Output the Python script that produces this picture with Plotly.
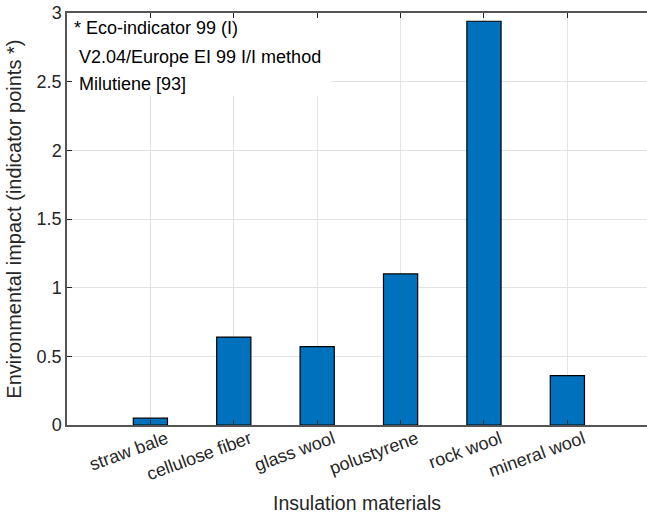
import plotly.graph_objects as go

categories = ["straw bale", "cellulose fiber", "glass wool", "polustyrene", "rock wool", "mineral wool"]
positions = [1, 2, 3, 4, 5, 6]
impact = [0.05, 0.64, 0.57, 1.10, 2.94, 0.36]
y_ticks = [0, 0.5, 1, 1.5, 2, 2.5, 3]
y_ticklabels = ["0", "0.5", "1", "1.5", "2", "2.5", "3"]
note_lines = ["* Eco-indicator 99 (I)", " V2.04/Europe EI 99 I/I method", " Milutiene [93]"]

FONT = "Liberation Sans, Arial, sans-serif"
AX = "#262626"
LINE = "#555555"
GRID = "#e3e3e3"

fig = go.Figure()
fig.add_trace(go.Bar(
    x=positions, y=impact, width=0.41,
    marker=dict(color="#0072BD", line=dict(color="#000000", width=1.2)),
))

fig.update_layout(
    width=647, height=519,
    margin=dict(l=67, r=0, t=13, b=94),
    paper_bgcolor="white", plot_bgcolor="white",
    showlegend=False,
    font=dict(family=FONT, size=18, color=AX),
)
fig.update_xaxes(
    range=[0, 6.955], tickmode="array", tickvals=positions, ticktext=categories,
    tickangle=-20, ticks="inside", ticklen=5, tickcolor=AX,
    ticklabelshift=16, ticklabelstandoff=-5,
    showline=True, linecolor=LINE, linewidth=1.5, mirror="allticks",
    showgrid=True, gridcolor=GRID, gridwidth=1, zeroline=False,
    tickfont=dict(size=18, color=AX), automargin=False,
)
fig.update_yaxes(
    range=[0, 3], tickmode="array", tickvals=y_ticks, ticktext=y_ticklabels,
    ticks="inside", ticklen=5, tickcolor=AX,
    showline=True, linecolor=LINE, linewidth=1.5, mirror=False,
    showgrid=True, gridcolor=GRID, gridwidth=1, zeroline=False,
    tickfont=dict(size=18, color=AX), automargin=False,
)

# white box behind the note text
fig.add_shape(type="rect", xref="x", yref="y", x0=0.01, x1=3.17, y0=2.4, y1=2.99,
              fillcolor="white", line=dict(width=0), layer="between")

note_y = [2.89, 2.68, 2.485]
note_x = [0.06, 0.12, 0.12]
for txt, xx, yy in zip(note_lines, note_x, note_y):
    fig.add_annotation(x=xx, y=yy, xref="x", yref="y", text=txt.strip(), showarrow=False,
                       xanchor="left", yanchor="middle", font=dict(size=18, color="#000000"))

fig.add_annotation(x=0.5, y=-0.19, xref="paper", yref="paper", text="Insulation materials",
                   showarrow=False, xanchor="center", yanchor="middle",
                   font=dict(size=19.5, color=AX))
fig.add_annotation(x=-0.092, y=0.5, xref="paper", yref="paper",
                   text="Environmental impact (indicator points *)", textangle=-90,
                   showarrow=False, xanchor="center", yanchor="middle",
                   font=dict(size=20, color=AX))

fig.write_html("out.html", config={"displayModeBar": False},
               post_script="document.body.style.margin='0';")
